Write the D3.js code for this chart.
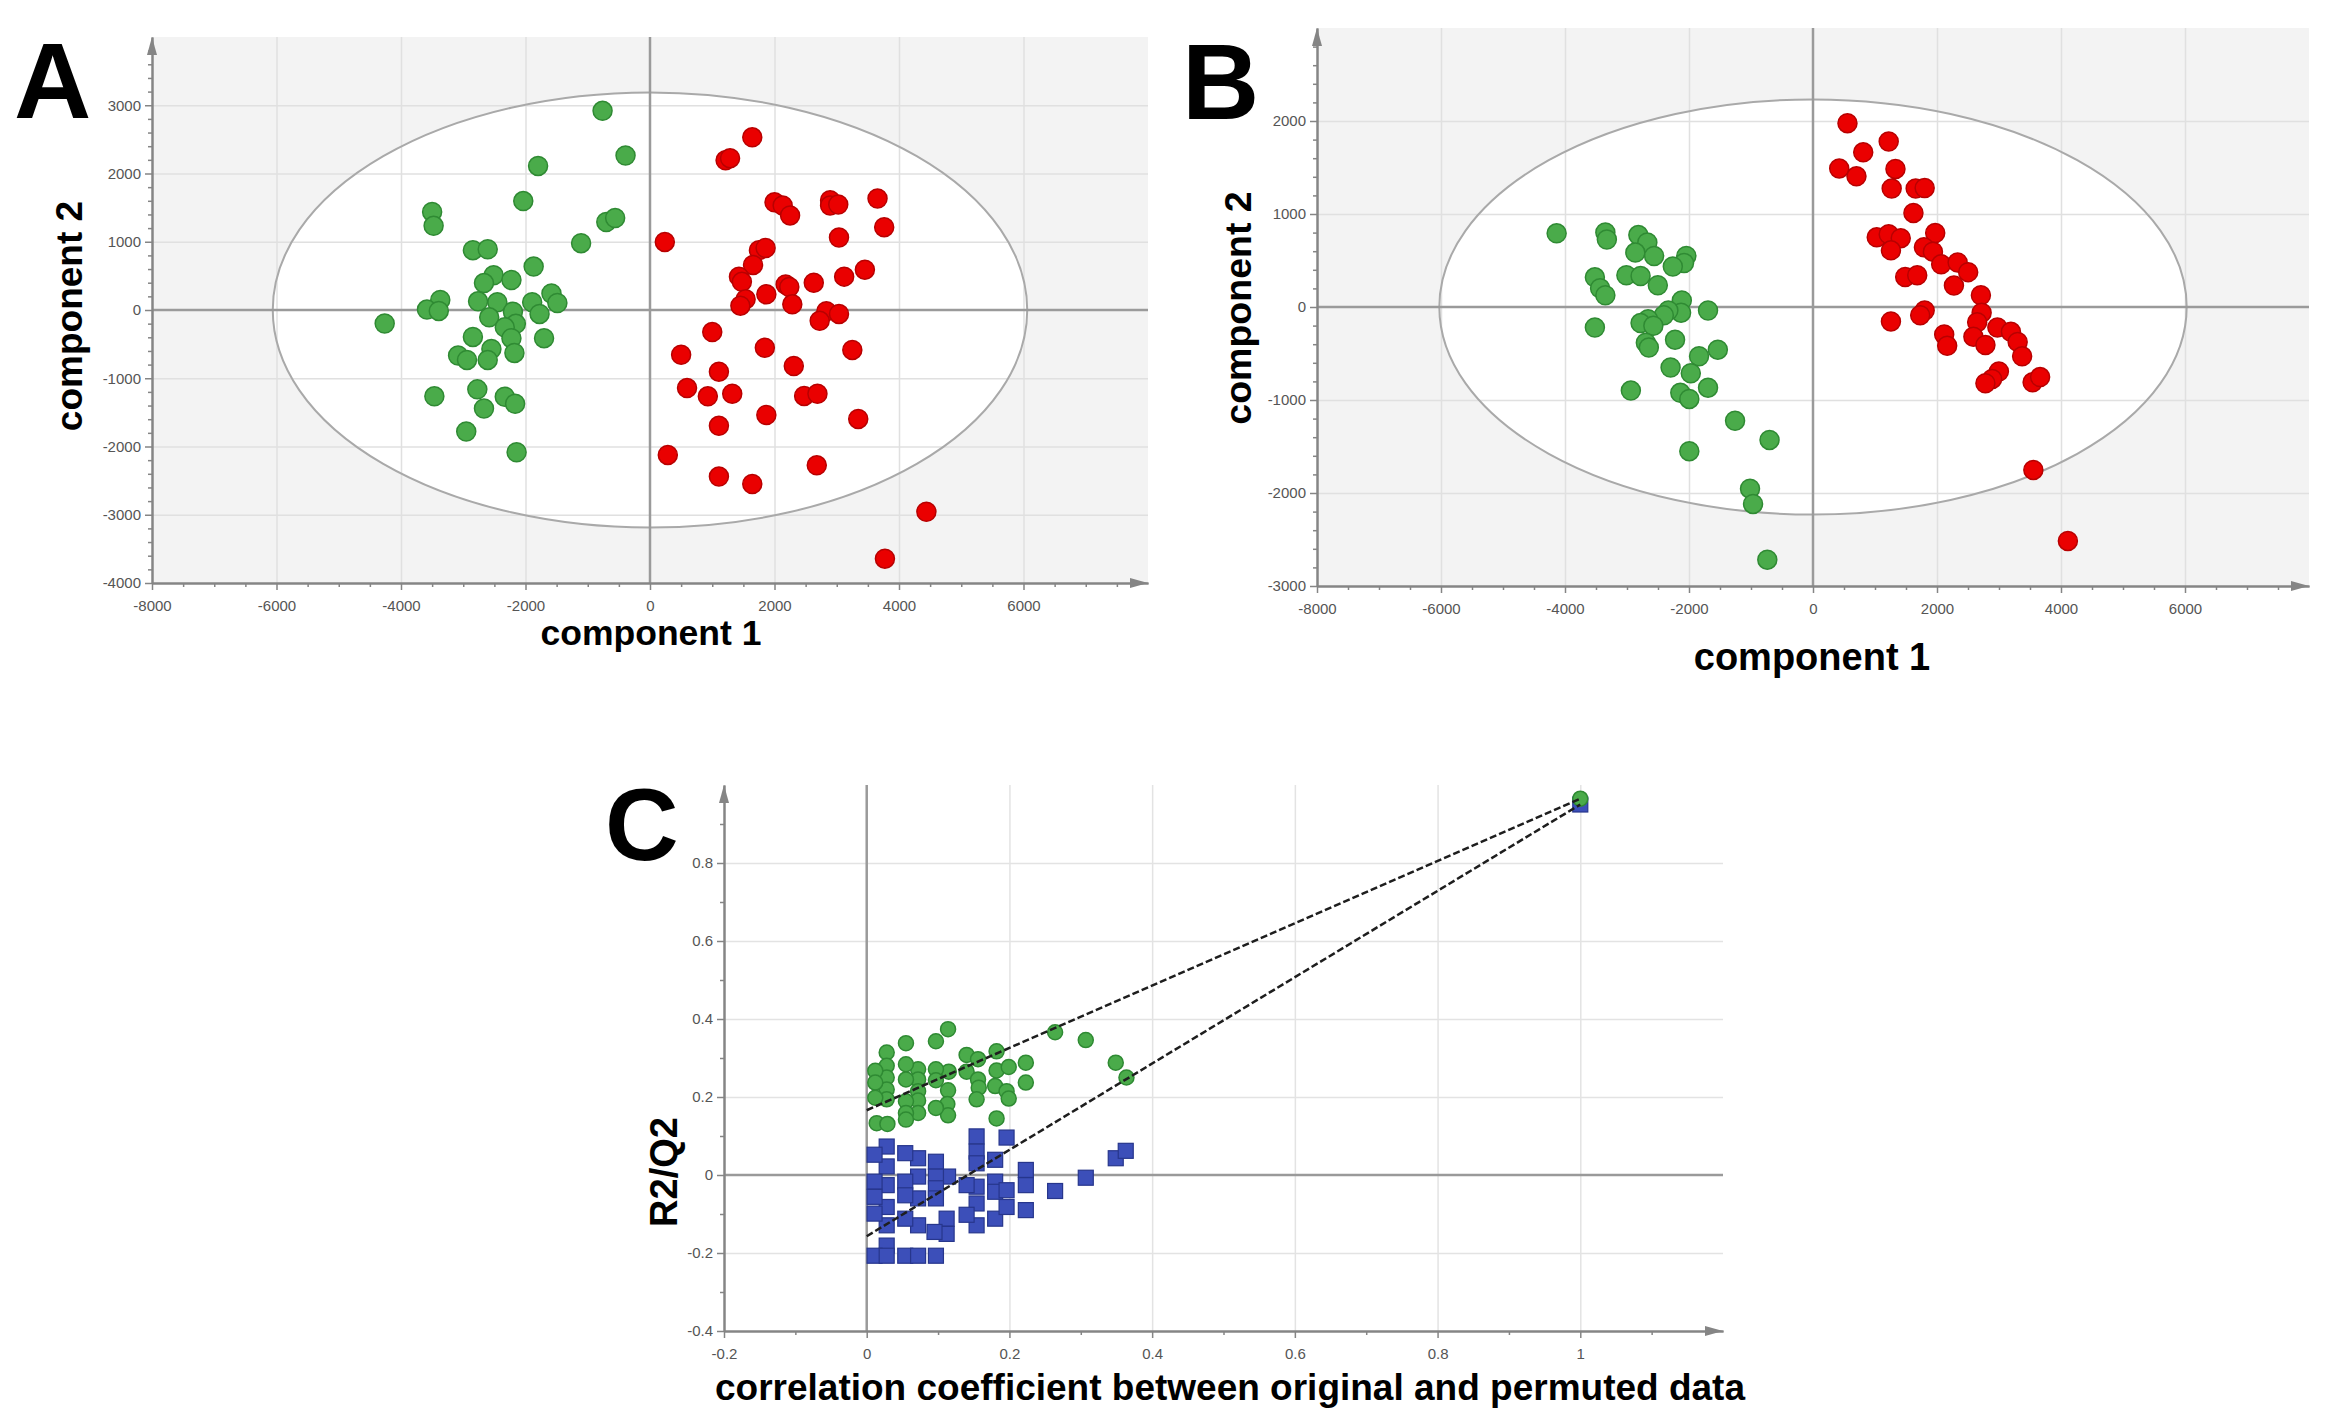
<!DOCTYPE html>
<html>
<head>
<meta charset="utf-8">
<script src="https://cdn.jsdelivr.net/npm/d3@7"></script>
<style>
  body { margin: 0; background: white; }
  svg { display: block; }
</style>
</head>
<body>
<script>
// ---- data ----

// panel A scores [component 1, component 2]
const aGreen = [
  [-762,2918],[-393,2263],[-1798,2111],[-2036,1596],[-3500,1437],[-3476,1233],[-702,1290],[-560,1348],
  [-1107,979],[-2845,877],[-2607,890],[-1869,636],[-2512,509],[-2667,394],[-2226,439],[-1583,242],
  [-1488,102],[-1893,114],[-2762,127],[-2452,114],[-3369,146],[-3583,6],[-3393,-13],[-4262,-197],
  [-2202,-25],[-1774,-57],[-2583,-108],[-2155,-203],[-2333,-254],[-2845,-394],[-2226,-413],[-1702,-413],
  [-2548,-572],[-2178,-629],[-3083,-667],[-2940,-731],[-2607,-731],[-2774,-1163],[-3464,-1265],[-2333,-1271],
  [-2167,-1373],[-2667,-1443],[-2952,-1780],[-2143,-2085]
]
const aRed = [
  [1643,2530],[1214,2193],[1286,2225],[2000,1577],[2131,1532],[2250,1386],[2893,1608],[2893,1532],
  [3024,1545],[3655,1634],[3762,1214],[3036,1062],[238,998],[1750,877],[1857,909],[1655,661],
  [1429,489],[1476,413],[2179,375],[2238,337],[2631,400],[3119,489],[3452,591],[1869,229],
  [1536,159],[1452,64],[2286,83],[2833,-19],[3036,-57],[2726,-159],[1000,-324],[1845,-553],
  [3250,-585],[500,-655],[2310,-820],[1107,-903],[595,-1144],[929,-1265],[1321,-1227],[2476,-1259],
  [2690,-1227],[1869,-1538],[3345,-1596],[1107,-1697],[286,-2123],[2679,-2276],[1107,-2441],[1643,-2549],
  [4440,-2956],[3774,-3643]
]
const aEllipse = [6060, 3188]   // Hotelling T2 radii

// panel B scores
const bGreen = [
  [-4135,792],[-3349,801],[-3325,726],[-2817,773],[-2672,693],[-2865,585],[-2563,548],[-2043,548],
  [-2080,473],[-2261,436],[-3518,319],[-3434,201],[-3349,126],[-3010,342],[-2781,333],[-2503,234],
  [-2116,70],[-2128,-61],[-2333,-37],[-2406,-89],[-2660,-131],[-2781,-173],[-2575,-201],[-1693,-37],
  [-3518,-220],[-2225,-351],[-2696,-384],[-2648,-436],[-1535,-459],[-1838,-529],[-2297,-651],[-1971,-712],
  [-2938,-899],[-2140,-923],[-1995,-988],[-1693,-867],[-1257,-1223],[-701,-1429],[-1995,-1550],[-1016,-1953],
  [-967,-2117],[-737,-2717]
]
const bRed = [
  [556,1977],[1221,1780],[810,1663],[423,1490],[701,1405],[1330,1485],[1269,1274],[1656,1274],
  [1801,1279],[1620,1012],[1028,749],[1221,782],[1415,740],[1257,609],[1971,796],[1789,642],
  [1934,595],[2067,459],[2333,478],[2503,375],[1487,323],[1681,342],[2273,230],[2708,126],
  [2720,-61],[1801,-37],[1729,-89],[1257,-155],[2648,-164],[2974,-220],[3192,-267],[2116,-295],
  [2164,-417],[2587,-319],[2781,-408],[3301,-375],[3373,-529],[2998,-693],[2889,-773],[2781,-820],
  [3542,-810],[3663,-754],[3554,-1752],[4111,-2515]
]
const bEllipse = [6027, 2232]

// panel C permutation test [correlation, value]
const cR2 = [
  [0.114,0.374],[0.097,0.343],[0.055,0.338],[0.264,0.366],[0.307,0.346],[0.182,0.317],[0.140,0.308],
  [0.156,0.297],[0.028,0.314],[0.349,0.288],[0.364,0.250],[0.223,0.288],[0.223,0.237],[0.182,0.268],
  [0.199,0.277],[0.140,0.265],[0.156,0.245],[0.157,0.224],[0.154,0.194],[0.180,0.228],[0.196,0.215],
  [0.199,0.196],[0.182,0.145],[0.115,0.265],[0.097,0.271],[0.097,0.243],[0.114,0.217],[0.113,0.182],
  [0.114,0.153],[0.097,0.172],[0.072,0.271],[0.072,0.245],[0.072,0.215],[0.072,0.191],[0.072,0.159],
  [0.055,0.284],[0.055,0.245],[0.055,0.189],[0.055,0.159],[0.028,0.280],[0.028,0.250],[0.028,0.219],
  [0.028,0.194],[0.012,0.267],[0.012,0.237],[0.012,0.198],[0.014,0.133],[0.029,0.131],[0.055,0.142],
  [1.0,0.965]
]
const cQ2 = [
  [0.154,0.099],[0.154,0.060],[0.154,0.030],[0.196,0.096],[0.180,0.039],[0.154,-0.030],[0.154,-0.073],
  [0.154,-0.129],[0.140,-0.026],[0.140,-0.102],[0.180,-0.017],[0.180,-0.043],[0.180,-0.112],[0.196,-0.039],
  [0.196,-0.082],[0.223,0.013],[0.223,-0.026],[0.223,-0.090],[0.264,-0.041],[0.307,-0.007],[0.349,0.043],
  [0.363,0.062],[0.114,-0.004],[0.097,0.034],[0.097,-0.004],[0.097,-0.034],[0.097,-0.060],[0.112,-0.112],
  [0.112,-0.151],[0.095,-0.146],[0.072,0.043],[0.072,-0.004],[0.072,-0.060],[0.072,-0.129],[0.054,0.056],
  [0.054,-0.017],[0.054,-0.052],[0.054,-0.112],[0.028,0.073],[0.028,0.022],[0.028,-0.026],[0.028,-0.082],
  [0.028,-0.129],[0.028,-0.181],[0.011,0.052],[0.011,-0.017],[0.011,-0.056],[0.011,-0.099],[0.011,-0.207],
  [0.028,-0.207],[0.054,-0.207],[0.072,-0.207],[0.097,-0.207],
  [1.0,0.950]
]
const r2Line = [[0,0.166],[1,0.965]]
const q2Line = [[0,-0.157],[1,0.950]]

// tick labels
const scoreXTicks = [-8000,-6000,-4000,-2000,0,2000,4000,6000]
const aYTicks = [-4000,-3000,-2000,-1000,0,1000,2000,3000]
const bYTicks = [-3000,-2000,-1000,0,1000,2000]
const cXTicks = [-0.2,0,0.2,0.4,0.6,0.8,1]
const cYTicks = [-0.4,-0.2,0,0.2,0.4,0.6,0.8]

// ---- drawing ----

const W = 2327, H = 1416
const labelFont = "'Liberation Sans', Arial, Helvetica, sans-serif"
const axisColor = "#858585"

const colors = {
  green: { fill: "#4aab4a", stroke: "#2f8a33" },
  red: { fill: "#ea0000", stroke: "#b80000" },
  blue: { fill: "#3c4fb9", stroke: "#27368c" },
}

const svg = d3.select("body").append("svg")
    .attr("width", W)
    .attr("height", H)

function drawGrid(g, x, y, xs, ys, color) {
  const [bottom, top] = y.range()
  const [left, right] = x.range()

  g.append("g")
      .attr("transform", `translate(0,${bottom})`)
      .call(d3.axisBottom(x).tickValues(xs).tickSize(-(bottom - top)).tickFormat(""))
      .call(a => a.select(".domain").remove())
      .selectAll("line").attr("stroke", color).attr("stroke-width", 1.5)

  g.append("g")
      .attr("transform", `translate(${left},0)`)
      .call(d3.axisLeft(y).tickValues(ys).tickSize(-(right - left)).tickFormat(""))
      .call(a => a.select(".domain").remove())
      .selectAll("line").attr("stroke", color).attr("stroke-width", 1.5)
}

function drawZeroLines(g, x, y) {
  g.append("line")
      .attr("x1", x(0)).attr("x2", x(0))
      .attr("y1", y.range()[0]).attr("y2", y.range()[1])
      .attr("stroke", "#9a9a9a").attr("stroke-width", 2.5)
  g.append("line")
      .attr("x1", x.range()[0]).attr("x2", x.range()[1])
      .attr("y1", y(0)).attr("y2", y(0))
      .attr("stroke", "#9a9a9a").attr("stroke-width", 2.5)
}

function styleAxis(sel) {
  sel.select(".domain").attr("stroke", axisColor).attr("stroke-width", 2)
  sel.selectAll(".tick line").attr("stroke", axisColor).attr("stroke-width", 1.5)
  sel.selectAll(".tick text")
      .attr("fill", "#555")
      .attr("font-size", 15)
      .attr("font-family", labelFont)
}

function drawAxes(g, x, y, xTicks, yTicks, xMinor, yMinor) {
  const [bottom, top] = y.range()
  const [left, right] = x.range()
  const fmt = d => String(d)

  // minor ticks first, majors on top
  g.append("g")
      .attr("transform", `translate(0,${bottom})`)
      .call(d3.axisBottom(x).tickValues(xMinor).tickSize(4).tickSizeOuter(0).tickFormat(""))
      .call(styleAxis)
  g.append("g")
      .attr("transform", `translate(${left},0)`)
      .call(d3.axisLeft(y).tickValues(yMinor).tickSize(4).tickSizeOuter(0).tickFormat(""))
      .call(styleAxis)

  g.append("g")
      .attr("transform", `translate(0,${bottom})`)
      .call(d3.axisBottom(x).tickValues(xTicks).tickSize(7).tickPadding(10).tickSizeOuter(0).tickFormat(fmt))
      .call(styleAxis)
  g.append("g")
      .attr("transform", `translate(${left},0)`)
      .call(d3.axisLeft(y).tickValues(yTicks).tickSize(7).tickPadding(4).tickSizeOuter(0).tickFormat(fmt))
      .call(styleAxis)

  // arrow heads at the far ends
  g.append("path")
      .attr("d", `M${right},${bottom} L${right - 18},${bottom - 5} L${right - 18},${bottom + 5} Z`)
      .attr("fill", axisColor)
  g.append("path")
      .attr("d", `M${left},${top} L${left - 5},${top + 18} L${left + 5},${top + 18} Z`)
      .attr("fill", axisColor)
}

function drawCircles(g, x, y, data, color, r) {
  g.append("g").selectAll("circle")
    .data(data)
    .join("circle")
      .attr("cx", d => x(d[0]))
      .attr("cy", d => y(d[1]))
      .attr("r", r)
      .attr("fill", color.fill)
      .attr("stroke", color.stroke)
      .attr("stroke-width", 1.5)
}

function drawLetter(text, px, py, size) {
  svg.append("text")
      .attr("x", px).attr("y", py)
      .attr("font-family", labelFont)
      .attr("font-weight", "bold")
      .attr("font-size", size)
      .attr("fill", "black")
      .text(text)
}

function drawAxisTitle(text, px, py, size, rotate) {
  svg.append("text")
      .attr("transform", `translate(${px},${py})` + (rotate ? " rotate(-90)" : ""))
      .attr("text-anchor", "middle")
      .attr("font-family", labelFont)
      .attr("font-weight", "bold")
      .attr("font-size", size)
      .attr("fill", "black")
      .text(text)
}

function minorTicks(lo, hi, step, majorStep) {
  return d3.range(lo, hi + step / 2, step)
    .filter(d => Math.abs(d / majorStep - Math.round(d / majorStep)) > 1e-6)
}

// score plot (panels A and B)
function drawScorePlot(p, green, red, ellipseR, yTicks) {
  const x = d3.scaleLinear().domain([-8000, 8000]).range([p.left, p.right])
  const y = d3.scaleLinear().domain(p.yDomain).range([p.bottom, p.top])
  const g = svg.append("g")

  g.append("rect")
      .attr("x", p.left).attr("y", p.top)
      .attr("width", p.right - p.left).attr("height", p.bottom - p.top)
      .attr("fill", "#f3f3f3")

  g.append("ellipse")
      .attr("cx", x(0)).attr("cy", y(0))
      .attr("rx", x(ellipseR[0]) - x(0)).attr("ry", y(0) - y(ellipseR[1]))
      .attr("fill", "white")

  drawGrid(g, x, y,
    scoreXTicks.filter(d => d !== 0 && d !== -8000),
    yTicks.filter(d => d !== 0 && d !== p.yDomain[0]),
    "#e0e0e0")

  g.append("ellipse")
      .attr("cx", x(0)).attr("cy", y(0))
      .attr("rx", x(ellipseR[0]) - x(0)).attr("ry", y(0) - y(ellipseR[1]))
      .attr("fill", "none")
      .attr("stroke", "#a9a9a9")
      .attr("stroke-width", 2)

  drawZeroLines(g, x, y)

  drawAxes(g, x, y, scoreXTicks, yTicks,
    minorTicks(-7500, 7500, 500, 2000),
    minorTicks(p.yDomain[0] + 200, p.yDomain[1] - 200, 200, 1000))

  drawCircles(g, x, y, green, colors.green, 9.5)
  drawCircles(g, x, y, red, colors.red, 9.5)
}

drawScorePlot({ left: 152, right: 1148, top: 37, bottom: 583, yDomain: [-4000, 4000] },
  aGreen, aRed, aEllipse, aYTicks)
drawScorePlot({ left: 1317, right: 2309, top: 28, bottom: 586, yDomain: [-3000, 3000] },
  bGreen, bRed, bEllipse, bYTicks)

drawLetter("A", 14, 118, 107)
drawLetter("B", 1182, 119, 107)
drawAxisTitle("component 1", 651, 645, 35.5, false)
drawAxisTitle("component 2", 82, 316, 37, true)
drawAxisTitle("component 1", 1812, 670, 38, false)
drawAxisTitle("component 2", 1251, 308, 37.5, true)

// permutation plot (panel C)
{
  const x = d3.scaleLinear().domain([-0.2, 1.2]).range([724, 1723])
  const y = d3.scaleLinear().domain([-0.4, 1.0]).range([1331, 785])
  const g = svg.append("g")

  drawGrid(g, x, y, [0.2, 0.4, 0.6, 0.8, 1.0], [-0.2, 0.2, 0.4, 0.6, 0.8], "#e3e3e3")
  drawZeroLines(g, x, y)
  drawAxes(g, x, y, cXTicks, cYTicks,
    minorTicks(-0.1, 1.1, 0.1, 0.2),
    minorTicks(-0.3, 0.9, 0.1, 0.2))

  g.append("g").selectAll("rect")
    .data(cQ2)
    .join("rect")
      .attr("x", d => x(d[0]) - 7.5)
      .attr("y", d => y(d[1]) - 7.5)
      .attr("width", 15)
      .attr("height", 15)
      .attr("fill", colors.blue.fill)
      .attr("stroke", colors.blue.stroke)
      .attr("stroke-width", 1.2)

  drawCircles(g, x, y, cR2, colors.green, 7.5)

  const line = d3.line().x(d => x(d[0])).y(d => y(d[1]))
  g.selectAll(".fit")
    .data([r2Line, q2Line])
    .join("path")
      .attr("class", "fit")
      .attr("d", line)
      .attr("fill", "none")
      .attr("stroke", "#1e1e1e")
      .attr("stroke-width", 2.5)
      .attr("stroke-dasharray", "7,3")
}

drawLetter("C", 605, 860, 102)
drawAxisTitle("R2/Q2", 677, 1172, 38, true)
drawAxisTitle("correlation coefficient between original and permuted data", 1230, 1400, 37, false)
</script>
</body>
</html>
